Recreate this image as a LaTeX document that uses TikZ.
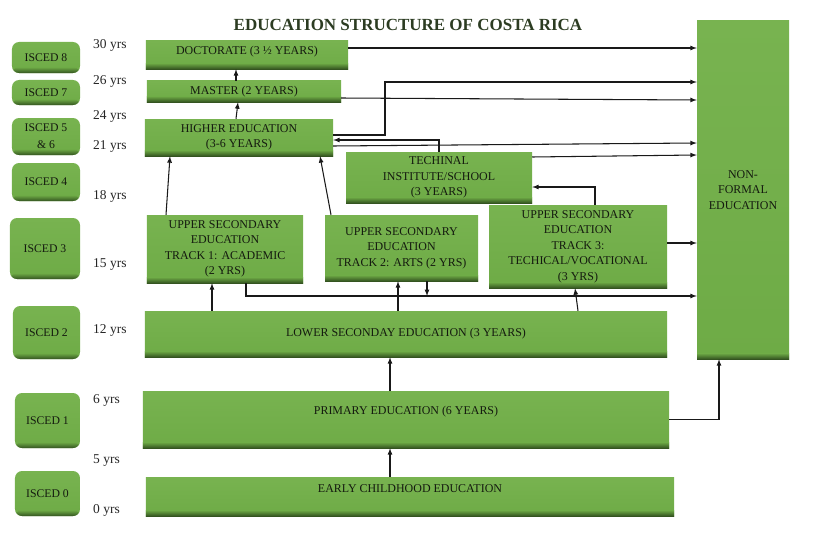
\documentclass[tikz,border=0pt]{standalone}
\usepackage{fontspec}
\setmainfont{Liberation Serif}
\definecolor{boxgreen}{RGB}{110,171,70}
\definecolor{boxlite}{RGB}{120,179,80}
\definecolor{boxdark}{RGB}{52,84,32}
\definecolor{inkdark}{RGB}{20,26,15}
\definecolor{titleink}{RGB}{44,60,34}

\begin{document}
\begin{tikzpicture}[x=0.03cm, y=-0.03cm]
\tikzset{ >=latex,
  greenfill/.style={path picture={
    \shade[top color=boxlite, bottom color=boxgreen] (path picture bounding box.north west) rectangle (path picture bounding box.south east);
    \shade[top color=boxgreen, bottom color=boxdark] ([yshift=5pt]path picture bounding box.south west) rectangle (path picture bounding box.south east);}},
  stage/.style={greenfill, inner sep=1pt, align=center, text=inkdark, font=\fontsize{10.2}{13.2}\selectfont},
  isced/.style={greenfill, rounded corners=6pt, inner sep=1pt, align=center, text=inkdark, minimum width=2.04cm, font=\fontsize{10}{14.5}\selectfont},
  yrs/.style={anchor=west, inner sep=0pt, text=black!85, font=\fontsize{11.5}{13}\selectfont},
  conn/.style={->, line width=0.9pt, draw=black!90},
}

\useasboundingbox (0,0) rectangle (824,535);

\node [font=\fontsize{14.5}{16}\selectfont\bfseries, text=titleink] (title) at (408,25) {EDUCATION STRUCTURE OF COSTA RICA};

% ISCED levels
\node [isced, minimum height=0.93cm] (i8) at (46,57.5) {ISCED 8};
\node [isced, minimum height=0.75cm] (i7) at (46,92.5) {ISCED 7};
\node [isced, minimum height=1.11cm] (i56) at (46,136.5) {ISCED 5\\\& 6};
\node [isced, minimum height=1.14cm] (i4) at (46,182) {ISCED 4};
\node [isced, minimum height=1.83cm, minimum width=2.1cm] (i3) at (45,248.5) {ISCED 3};
\node [isced, minimum height=1.59cm, minimum width=2.01cm] (i2) at (46.5,332.5) {ISCED 2};
\node [isced, minimum height=1.65cm, minimum width=1.95cm] (i1) at (47.5,420.5) {ISCED 1};
\node [isced, minimum height=1.35cm, minimum width=1.95cm] (i0) at (47.5,493.5) {ISCED 0};

\node [yrs] (a30) at (93,45) {30 yrs};
\node [yrs] (a26) at (93,81) {26 yrs};
\node [yrs] (a24) at (93,116) {24 yrs};
\node [yrs] (a21) at (93,146) {21 yrs};
\node [yrs] (a18) at (93,196) {18 yrs};
\node [yrs] (a15) at (93,265) {15 yrs};
\node [yrs] (a12) at (93,330) {12 yrs};
\node [yrs] (a6)  at (93,400) {6 yrs};
\node [yrs] (a5)  at (93,461) {5 yrs};
\node [yrs] (a0)  at (93,510) {0 yrs};

% stages
\node [stage, minimum width=6.06cm, minimum height=0.84cm, text depth=8pt] (doct) at (247,55) {DOCTORATE (3 ½ YEARS)};
\node [stage, minimum width=5.82cm, minimum height=0.63cm] (master) at (244,91.5) {MASTER (2 YEARS)};
\node [stage, minimum width=5.64cm, minimum height=1.11cm] (higher) at (239,137.5) {HIGHER EDUCATION\\(3-6 YEARS)};
\node [stage, minimum width=5.58cm, minimum height=1.53cm] (tech) at (439,177.5) {TECHINAL\\INSTITUTE/SCHOOL\\(3 YEARS)};
\node [stage, minimum width=4.68cm, minimum height=2.04cm] (trackA) at (225,249) {UPPER SECONDARY\\EDUCATION\\TRACK 1: ACADEMIC\\(2 YRS)};
\node [stage, minimum width=4.59cm, minimum height=1.98cm] (trackB) at (401.5,248) {UPPER SECONDARY\\EDUCATION\\TRACK 2: ARTS (2 YRS)};
\node [stage, minimum width=5.34cm, minimum height=2.49cm] (trackC) at (578,246.5) {UPPER SECONDARY\\EDUCATION\\TRACK 3:\\TECHICAL/VOCATIONAL\\(3 YRS)};
\node [stage, minimum width=15.66cm, minimum height=1.38cm] (lower) at (406,334) {LOWER SECONDAY EDUCATION (3 YEARS)};
\node [stage, minimum width=15.78cm, minimum height=1.71cm, text depth=15pt] (primary) at (406,419.5) {PRIMARY EDUCATION (6 YEARS)};
\node [stage, minimum width=15.84cm, minimum height=1.17cm, text depth=13pt] (early) at (410,496.5) {EARLY CHILDHOOD EDUCATION};
\node [stage, minimum width=2.76cm, minimum height=10.14cm] (nonf) at (743,190) {NON-\\FORMAL\\EDUCATION};

% into non-formal education
\draw [conn] (doct.east |- 0,48) -- (nonf.west |- 0,48);
\draw [conn] (master.east |- 0,98) -- (nonf.west |- 0,100);
\draw [conn] (higher.east |- 0,135) -| (385,82) -- (nonf.west |- 0,82);
\draw [conn] (higher.east |- 0,146) -- (nonf.west |- 0,143);
\draw [conn] (tech.east |- 0,157) -- (nonf.west |- 0,155);
\draw [conn] (trackC.east |- 0,243) -- (nonf.west |- 0,243);
\draw [conn] (primary.east) -| (nonf.south -| 719,0);

% upwards
\draw [conn] (tech.north) |- (higher.east |- 0,140);
\draw [conn] (trackC.north -| 595,0) |- (tech.east |- 0,187);
\draw [conn] (higher.north -| 236,0) -- (master.south -| 238,0);
\draw [conn] (master.north -| 236,0) -- (doct.south -| 236,0);
\draw [conn] (trackA.north -| 166,0) -- (higher.south -| 170,0);
\draw [conn] (trackB.north -| 331,0) -- (higher.south -| 320,0);
\draw [conn] (lower.north -| 212,0) -- (trackA.south -| 212,0);
\draw [conn] (lower.north -| 398,0) -- (trackB.south -| 398,0);
\draw [conn] (lower.north -| 578,0) -- (trackC.south -| 575,0);
\draw [conn] (primary.north -| 390,0) -- (lower.south -| 390,0);
\draw [conn] (early.north -| 390,0) -- (primary.south -| 390,0);

\coordinate (merge) at (427,296);
\draw [conn] (trackA.south -| 246,0) |- (nonf.west |- merge);
\draw [conn] (trackB.south -| 427,0) -- (merge);

\end{tikzpicture}
\end{document}
